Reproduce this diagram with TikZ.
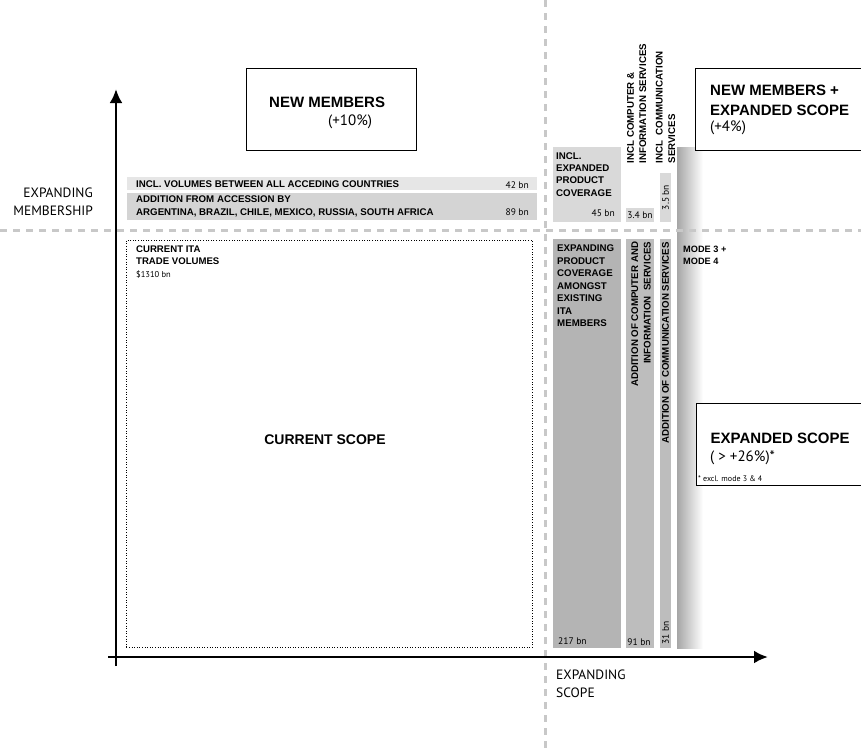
\documentclass[tikz,border=0pt]{standalone}
\usepackage{fontspec}
\setmainfont{Liberation Sans}
\newfontfamily\reg{PT Sans}
\usetikzlibrary{arrows.meta}
\definecolor{dashc}{HTML}{C8C8C8}
\definecolor{barA}{HTML}{E6E6E6}
\definecolor{barB}{HTML}{D4D4D4}
\definecolor{barC}{HTML}{D9D9D9}
\definecolor{barD}{HTML}{B4B4B4}
\definecolor{barE}{HTML}{BDBDBD}
\definecolor{gradc}{HTML}{A6A6A6}
\begin{document}
\begin{tikzpicture}[x=1pt,y=-1pt,
  gridl/.style={draw=dashc, line width=3pt, dash pattern=on 7pt off 6pt},
  axis/.style={line width=2.8pt, -{Latex[length=14pt,width=13pt]}},
  box/.style={draw=black, line width=1.2pt, fill=white, inner sep=0pt, anchor=north west},
  dotbox/.style={draw=black, line width=0.9pt, dash pattern=on 1pt off 1.6pt, inner sep=0pt, anchor=north west},
  barbox/.style={inner sep=0pt, anchor=north west, draw=none},
  tb/.style={inner sep=0pt, font=\bfseries\fontsize{9.7}{12.4}\selectfont},
  ttl/.style={inner sep=0pt, font=\bfseries\fontsize{15}{19}\selectfont},
  rg/.style={inner sep=0pt, font=\reg\fontsize{15}{17}\selectfont},
  num/.style={inner sep=0pt, font=\reg\fontsize{9.5}{11}\selectfont},
  lab/.style={inner sep=0pt, font=\reg\fontsize{13.5}{18}\selectfont}]
\useasboundingbox (0,0) rectangle (861,753);

% gradient band
\shade[left color=gradc, right color=white] (677,147) rectangle (703,648);

% dashed quadrant lines
\coordinate (vt) at (545,0); \coordinate (vb) at (545,753);
\coordinate (hl) at (0,230); \coordinate (hr) at (861,230);
\draw[gridl] (vt) -- (vb);
\draw[gridl] (hl) -- (hr);

% current scope
\node[dotbox, minimum width=406pt, minimum height=407pt] (cs) at (126,240) {};
\node[tb, anchor=north west, align=left, font=\bfseries\fontsize{9.6}{12.5}\selectfont] (csT) at (136,245.5) {CURRENT ITA\\TRADE VOLUMES};
\node[num, anchor=base west, font=\reg\fontsize{8.5}{10}\selectfont] (csV) at (136,277) {\$1310 bn};
\node[ttl, anchor=base, font=\bfseries\fontsize{14}{17}\selectfont] (csC) at (325,444) {CURRENT SCOPE};

% new members box
\node[box, minimum width=170pt, minimum height=82pt] (nm) at (246,68) {};
\node[ttl, anchor=base west] (nmT) at (269,107) {NEW MEMBERS};
\node[rg, anchor=base west] (nmP) at (328,125) {(+10\%)};

% left bars
\node[barbox, fill=barA, minimum width=410pt, minimum height=13pt] (b1) at (127,177) {};
\node[tb, anchor=base west] (b1T) at (136,187) {INCL. VOLUMES BETWEEN ALL ACCEDING COUNTRIES};
\node[num, anchor=base east] (b1N) at (529,188) {42 bn};
\node[barbox, fill=barB, minimum width=410pt, minimum height=27pt] (b2) at (127,193) {};
\node[tb, anchor=north west, align=left, font=\bfseries\fontsize{9.7}{13}\selectfont] (b2T) at (136,195.2) {ADDITION FROM ACCESSION BY\\ARGENTINA, BRAZIL, CHILE, MEXICO, RUSSIA, SOUTH AFRICA};
\node[num, anchor=base east] (b2N) at (529,215) {89 bn};

% top right bars
\node[barbox, fill=barC, minimum width=68pt, minimum height=75pt] (t1) at (553,147) {};
\node[tb, anchor=north west, align=left, font=\bfseries\fontsize{9.7}{12.3}\selectfont] (t1T) at (556,152.2) {INCL.\\EXPANDED\\PRODUCT\\COVERAGE};
\node[num, anchor=base east] (t1N) at (615,216.5) {45 bn};
\node[barbox, fill=barC, minimum width=28pt, minimum height=14pt] (t2) at (626,208) {};
\node[num, anchor=base] (t2N) at (640,218.5) {3.4 bn};
\node[tb, rotate=90, anchor=west, align=left] (t2T) at (636.7,163.5) {INCL COMPUTER \&\\INFORMATION SERVICES};
\node[barbox, fill=barC, minimum width=11pt, minimum height=49pt] (t3) at (660,173) {};
\node[num, rotate=90, anchor=center] (t3N) at (665.5,197.5) {3.5 bn};
\node[tb, rotate=90, anchor=west, align=left] (t3T) at (665.5,163.5) {INCL\ \ COMMUNICATION\\SERVICES};

% new members + expanded scope
\node[box, minimum width=180pt, minimum height=82pt] (nme) at (695,68) {};
\node[ttl, anchor=base west] (nmeA) at (710,95.5) {NEW MEMBERS +};
\node[ttl, anchor=base west] (nmeB) at (710,115.5) {EXPANDED SCOPE};
\node[rg, anchor=base west] (nmeC) at (710,131) {(+4\%)};

% bottom bars
\node[barbox, fill=barD, minimum width=68pt, minimum height=409pt] (u1) at (553,239) {};
\node[tb, anchor=north west, align=left, font=\bfseries\fontsize{9.7}{12.5}\selectfont] (u1T) at (557,244.8) {EXPANDING\\PRODUCT\\COVERAGE\\AMONGST\\EXISTING\\ITA\\MEMBERS};
\node[num, anchor=base west] (u1N) at (558,644) {217 bn};
\node[barbox, fill=barE, minimum width=28pt, minimum height=409pt] (u2) at (626,239) {};
\node[tb, rotate=90, anchor=east, align=right] (u2T) at (641,241.7) {ADDITION OF COMPUTER AND\\INFORMATION\ \ SERVICES};
\node[num, anchor=base] (u2N) at (639,645) {91 bn};
\node[barbox, fill=barE, minimum width=11pt, minimum height=409pt] (u3) at (660,239) {};
\node[tb, rotate=90, anchor=east] (u3T) at (665.5,242) {ADDITION OF COMMUNICATION SERVICES};
\node[num, rotate=90, anchor=center] (u3N) at (665.5,633) {31 bn};
\node[tb, anchor=north west, align=left, font=\bfseries\fontsize{9.2}{12.3}\selectfont] (mode) at (683,246) {MODE 3 +\\MODE 4};

% expanded scope box
\node[box, minimum width=180pt, minimum height=82pt] (es) at (696,403) {};
\node[ttl, anchor=base west] (esT) at (710.5,443) {EXPANDED SCOPE};
\node[rg, anchor=base west] (esP) at (710,461) {( > +26\%)*};
\node[num, anchor=base west, font=\reg\fontsize{8}{9}\selectfont] (esN) at (698,481) {* excl. mode 3 \& 4};

% axes
\coordinate (yO) at (116,666); \coordinate (yT) at (116,89);
\coordinate (xO) at (108,657); \coordinate (xT) at (768,657);
\draw[axis] (yO) -- (yT);
\draw[axis] (xO) -- (xT);

% axis labels
\node[lab, anchor=north east, align=right] (ylab) at (93,187.5) {EXPANDING\\MEMBERSHIP};
\node[lab, anchor=north west, align=left] (xlab) at (556,670) {EXPANDING\\SCOPE};
\end{tikzpicture}
\end{document}
